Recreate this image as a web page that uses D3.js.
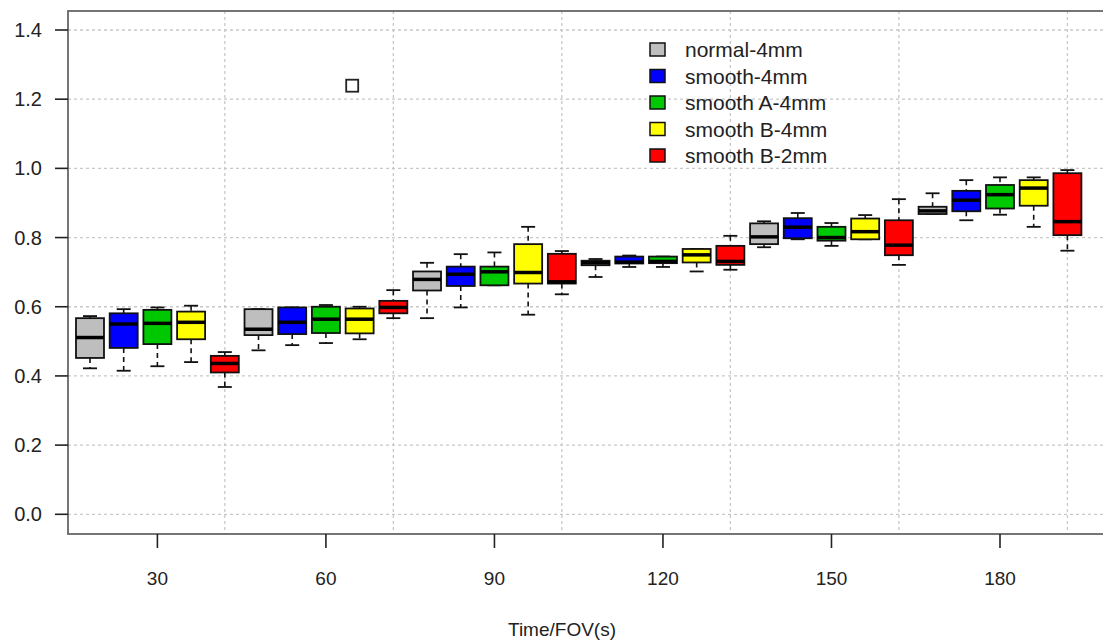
<!DOCTYPE html>
<html><head><meta charset="utf-8">
<script src="https://cdn.jsdelivr.net/npm/d3@7"></script>
<style>body{margin:0;background:#fff}svg{display:block}text{font-family:"Liberation Sans",Arial,sans-serif;fill:#222}</style>
</head><body><svg id="c" width="1103" height="642"></svg>
<script>
// groups (Time/FOV in s)
const groups = [30, 60, 90, 120, 150, 180];
const seriesNames = ["normal-4mm", "smooth-4mm", "smooth A-4mm", "smooth B-4mm", "smooth B-2mm"];
const seriesColors = ["#bebebe", "#0000ff", "#00c800", "#ffff00", "#ff0000"];
// each entry: [lower whisker, Q1, median, Q3, upper whisker] per group
const normal4 = [[0.422,0.452,0.511,0.567,0.573],[0.474,0.518,0.535,0.593,0.593],[0.567,0.647,0.679,0.702,0.727],[0.686,0.720,0.727,0.733,0.738],[0.772,0.781,0.802,0.841,0.847],[0.868,0.868,0.877,0.889,0.928]];
const smooth4 = [[0.415,0.481,0.550,0.581,0.593],[0.489,0.521,0.555,0.598,0.598],[0.598,0.660,0.694,0.716,0.752],[0.715,0.725,0.729,0.745,0.748],[0.795,0.798,0.830,0.856,0.871],[0.850,0.876,0.908,0.935,0.966]];
const smoothA4 = [[0.428,0.492,0.552,0.591,0.598],[0.495,0.524,0.564,0.600,0.605],[0.662,0.662,0.701,0.716,0.757],[0.715,0.726,0.731,0.745,0.745],[0.776,0.791,0.800,0.831,0.842],[0.866,0.884,0.924,0.952,0.974]];
const smoothB4 = [[0.440,0.506,0.555,0.586,0.603],[0.506,0.523,0.564,0.595,0.600],[0.577,0.667,0.699,0.781,0.831],[0.702,0.728,0.750,0.767,0.767],[0.795,0.795,0.817,0.855,0.865],[0.831,0.892,0.943,0.966,0.974]];
const smoothB2 = [[0.368,0.410,0.436,0.458,0.469],[0.567,0.581,0.598,0.617,0.648],[0.636,0.667,0.672,0.753,0.761],[0.707,0.721,0.731,0.776,0.805],[0.721,0.749,0.778,0.850,0.911],[0.762,0.807,0.846,0.986,0.995]];
const seriesStats = [normal4, smooth4, smoothA4, smoothB4, smoothB2];
// outlier: [box position, value]
const outliers = [[8.78, 1.239]];
const yTicks = [0, 0.2, 0.4, 0.6, 0.8, 1.0, 1.2, 1.4];
const xLabel = "Time/FOV(s)";

const svg = d3.select("#c");
const pL = 68, pT = 11, pB = 534, pR = 1112;
const nS = seriesNames.length;
const x = d3.scaleLinear().domain([3, 28]).range([157.4, 1000]);
const y = d3.scaleLinear().domain([0, 1.4]).range([514.3, 30]);
const bw = 28;

// grid
const grid = svg.append("g").attr("stroke", "#c8c8c8").attr("stroke-width", 1.3).attr("stroke-dasharray", "3,3");
yTicks.forEach(t => grid.append("line").attr("x1", pL).attr("x2", pR).attr("y1", y(t)).attr("y2", y(t)));
groups.forEach((g, i) => { const p = (i + 1) * nS; grid.append("line").attr("x1", x(p)).attr("x2", x(p)).attr("y1", pT).attr("y2", pB); });

// boxes
const boxes = [];
groups.forEach((g, gi) => seriesStats.forEach((s, si) => boxes.push({pos: gi * nS + si + 1, st: s[gi], col: seriesColors[si]})));
const bg = svg.append("g");
boxes.forEach(b => {
  const cx = x(b.pos), [lo, q1, md, q3, hi] = b.st;
  const g = bg.append("g");
  g.append("line").attr("x1", cx).attr("x2", cx).attr("y1", y(hi)).attr("y2", y(q3)).attr("stroke", "#111").attr("stroke-width", 1.6).attr("stroke-dasharray", "5,4");
  g.append("line").attr("x1", cx).attr("x2", cx).attr("y1", y(q1)).attr("y2", y(lo)).attr("stroke", "#111").attr("stroke-width", 1.6).attr("stroke-dasharray", "5,4");
  g.append("line").attr("x1", cx - bw / 4).attr("x2", cx + bw / 4).attr("y1", y(hi)).attr("y2", y(hi)).attr("stroke", "#111").attr("stroke-width", 1.8);
  g.append("line").attr("x1", cx - bw / 4).attr("x2", cx + bw / 4).attr("y1", y(lo)).attr("y2", y(lo)).attr("stroke", "#111").attr("stroke-width", 1.8);
  g.append("rect").attr("x", cx - bw / 2).attr("y", y(q3)).attr("width", bw).attr("height", Math.max(1, y(q1) - y(q3)))
    .attr("fill", b.col).attr("stroke", "#111").attr("stroke-width", 1.8);
  g.append("line").attr("x1", cx - bw / 2).attr("x2", cx + bw / 2).attr("y1", y(md)).attr("y2", y(md)).attr("stroke", "#000").attr("stroke-width", 3.5);
});

// outliers
outliers.forEach(o => svg.append("rect").attr("x", x(o[0]) - 6).attr("y", y(o[1]) - 6).attr("width", 12).attr("height", 12)
  .attr("fill", "none").attr("stroke", "#222").attr("stroke-width", 1.8));

// frame
svg.append("rect").attr("x", pL).attr("y", pT).attr("width", pR - pL).attr("height", pB - pT)
  .attr("fill", "none").attr("stroke", "#666").attr("stroke-width", 1.8);

// y axis
const ya = svg.append("g");
yTicks.forEach(t => {
  ya.append("line").attr("x1", pL - 13).attr("x2", pL).attr("y1", y(t)).attr("y2", y(t)).attr("stroke", "#222").attr("stroke-width", 1.6);
  ya.append("text").attr("x", pL - 26).attr("y", y(t)).attr("dy", "0.35em").attr("text-anchor", "end").attr("font-size", 20).text(d3.format(".1f")(t));
});
// x axis
const xa = svg.append("g");
groups.forEach((g, i) => {
  const p = i * nS + 3;
  xa.append("line").attr("x1", x(p)).attr("x2", x(p)).attr("y1", pB).attr("y2", pB + 14).attr("stroke", "#222").attr("stroke-width", 1.6);
  xa.append("text").attr("x", x(p)).attr("y", 585).attr("text-anchor", "middle").attr("font-size", 19).text(g);
});
svg.append("text").attr("x", 562).attr("y", 636).attr("text-anchor", "middle").attr("font-size", 19).text(xLabel);

// legend
const lg = svg.append("g");
seriesNames.forEach((n, i) => {
  const ly = 50 + i * 26.5;
  lg.append("rect").attr("x", 650).attr("y", ly - 7).attr("width", 15).attr("height", 13).attr("fill", seriesColors[i]).attr("stroke", "#111").attr("stroke-width", 1.5);
  lg.append("text").attr("x", 685).attr("y", ly).attr("dy", "0.35em").attr("font-size", 21).text(n);
});
</script></body></html>
